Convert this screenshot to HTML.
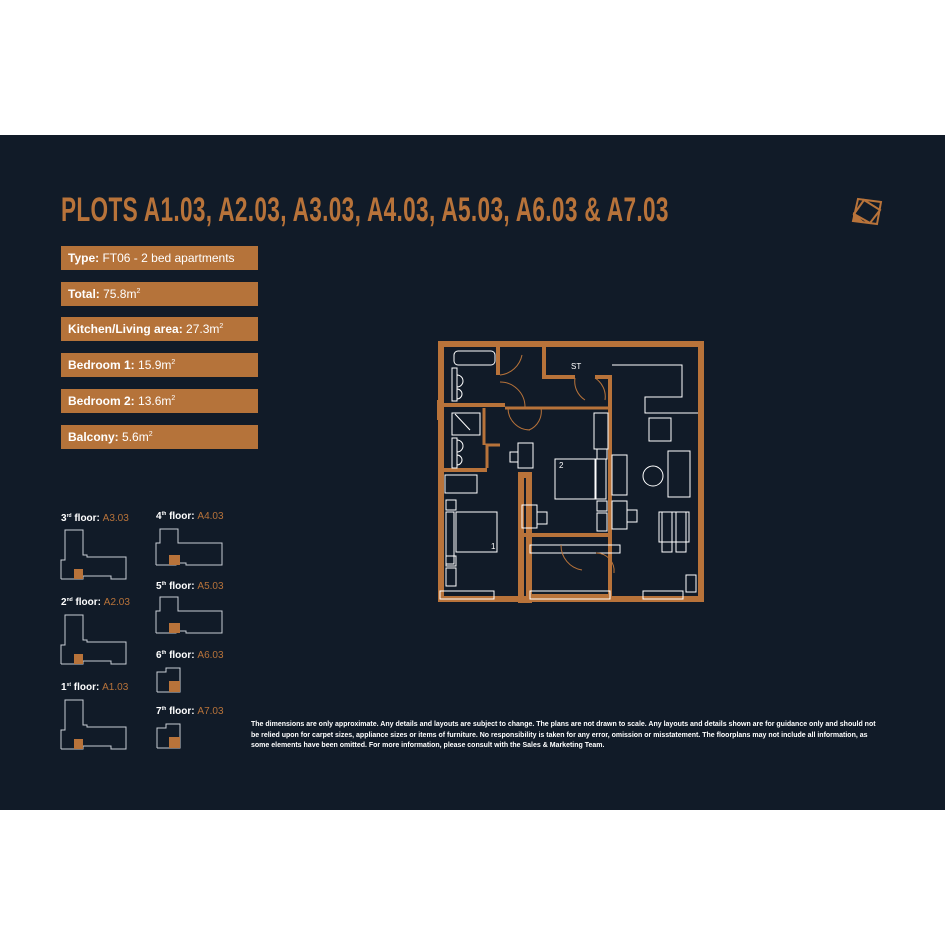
<!DOCTYPE html>
<html><head><meta charset="utf-8"><style>
body{margin:0;width:945px;height:945px;background:#fff;position:relative;overflow:hidden;font-family:"Liberation Sans",sans-serif}
#bg{position:absolute;left:0;top:135px;width:945px;height:675px;background:#111b28}
.t{position:absolute;left:61px;top:191px;color:#b8733a;font-weight:bold;font-size:34px;white-space:nowrap;transform:scaleX(0.665);transform-origin:left top;letter-spacing:0.5px}
.b{position:absolute;left:61px;width:197px;height:24px;background:#b5733a;color:#fff;font-size:12px;line-height:24px;padding-left:7px;box-sizing:border-box;white-space:nowrap}
.b b{font-weight:bold}
sup{font-size:7px;vertical-align:5px;line-height:0}
.fl{position:absolute;color:#fff;font-size:10px;font-weight:bold;white-space:nowrap}
.fl span{color:#b8733a;font-weight:normal}
.fl sup{font-size:5px;vertical-align:4px}
.note{position:absolute;left:251px;top:720px;width:630px;color:#fff;font-size:7px;line-height:10.6px;font-weight:bold}
</style></head><body>
<div id="bg"></div>
<div class="t">PLOTS A1.03, A2.03, A3.03, A4.03, A5.03, A6.03 &amp; A7.03</div>
<svg style="position:absolute;left:850px;top:196px" width="34" height="30" viewBox="0 0 34 30">
<polygon points="8,3 31,6 27,28 3,25" fill="none" stroke="#b8733a" stroke-width="2"/>
<polygon points="14,4 30,14 20,27 4,18" fill="none" stroke="#b8733a" stroke-width="2"/>
<polygon points="3,16 3,25 14,26" fill="#b8733a"/>
</svg>
<div class="b" style="top:246px"><b>Type:</b> FT06 - 2 bed apartments</div>
<div class="b" style="top:282px"><b>Total:</b> 75.8m<sup>2</sup></div>
<div class="b" style="top:317px"><b>Kitchen/Living area:</b> 27.3m<sup>2</sup></div>
<div class="b" style="top:353px"><b>Bedroom 1:</b> 15.9m<sup>2</sup></div>
<div class="b" style="top:389px"><b>Bedroom 2:</b> 13.6m<sup>2</sup></div>
<div class="b" style="top:425px"><b>Balcony:</b> 5.6m<sup>2</sup></div>

<div class="fl" style="left:61px;top:513px">3<sup>rd</sup> floor: <span>A3.03</span></div>
<div class="fl" style="left:61px;top:597px">2<sup>nd</sup> floor: <span>A2.03</span></div>
<div class="fl" style="left:61px;top:682px">1<sup>st</sup> floor: <span>A1.03</span></div>
<div class="fl" style="left:156px;top:511px">4<sup>th</sup> floor: <span>A4.03</span></div>
<div class="fl" style="left:156px;top:581px">5<sup>th</sup> floor: <span>A5.03</span></div>
<div class="fl" style="left:156px;top:650px">6<sup>th</sup> floor: <span>A6.03</span></div>
<div class="fl" style="left:156px;top:706px">7<sup>th</sup> floor: <span>A7.03</span></div>

<svg style="position:absolute;left:0;top:0" width="945" height="945">
<defs>
<g id="big"><polyline points="0,49 0,30 4,30 4,27 4,0 22,0 22,25 26,25 26,27 65,27 65,49 50,49 50,46 22,46 22,49 0,49" fill="none" stroke="#c8ccd4" stroke-width="1"/><rect x="13" y="39" width="9" height="10" fill="#b8733a"/></g>
<g id="med"><polyline points="0,36 0,14 4,14 4,0 22,0 22,14 66,14 66,36 30,36 30,34 20,34 20,36 0,36" fill="none" stroke="#c8ccd4" stroke-width="1"/><rect x="13" y="26" width="11" height="10" fill="#b8733a"/></g>
<g id="sm"><polyline points="1,25 1,5 10,5 10,1 24,1 24,25 1,25" fill="none" stroke="#c8ccd4" stroke-width="1"/><rect x="13" y="14" width="11" height="11" fill="#b8733a"/></g>
</defs>
<use href="#big" x="61" y="530"/>
<use href="#big" x="61" y="615"/>
<use href="#big" x="61" y="700"/>
<use href="#med" x="156" y="529"/>
<use href="#med" x="156" y="597"/>
<use href="#sm" x="156" y="667"/>
<use href="#sm" x="156" y="723"/>

<g fill="none" stroke="#b8733a">
<rect x="441" y="344" width="260" height="255" stroke-width="6"/>
<line x1="439" y1="405" x2="505" y2="405" stroke-width="4"/>
<line x1="498" y1="342" x2="498" y2="375" stroke-width="4"/>
<polyline points="544,342 544,377 575,377" stroke-width="4"/>
<polyline points="595,377 610,377 610,600" stroke-width="4"/>
<line x1="505" y1="408" x2="610" y2="408" stroke-width="3"/>
<line x1="484" y1="408" x2="484" y2="445" stroke-width="3"/>
<line x1="439" y1="470" x2="487" y2="470" stroke-width="4"/>
<polyline points="487,468 487,445 500,445" stroke-width="3"/>
<rect x="521" y="475" width="8" height="125" stroke-width="6"/>
<line x1="520" y1="535" x2="610" y2="535" stroke-width="4"/>
<line x1="439" y1="400" x2="439" y2="420" stroke-width="4"/>
<line x1="700" y1="355" x2="700" y2="600" stroke-width="4"/>
<line x1="530" y1="597" x2="612" y2="597" stroke-width="6"/>
</g>
<g fill="none" stroke="#fff" stroke-width="1">
<rect x="454" y="351" width="41" height="14" rx="4"/>
<rect x="452" y="368" width="5" height="33"/>
<path d="M457,375 a4,4 0 0 1 0,12 M457,389 a4,4 0 0 1 0,10"/>
<rect x="452" y="413" width="28" height="22"/>
<line x1="455" y1="414" x2="470" y2="430"/>
<rect x="452" y="438" width="5" height="30"/>
<path d="M457,440 a4,4 0 0 1 0,12 M457,455 a4,4 0 0 1 0,10"/>
<rect x="445" y="475" width="32" height="18"/>
<rect x="446" y="500" width="10" height="10"/>
<rect x="446" y="512" width="8" height="52"/>
<rect x="456" y="512" width="41" height="40"/>
<rect x="446" y="556" width="10" height="10"/>
<rect x="446" y="568" width="10" height="18"/>
<rect x="518" y="443" width="15" height="25"/><rect x="510" y="452" width="8" height="10"/>
<rect x="555" y="459" width="40" height="40"/>
<rect x="596" y="459" width="10" height="40"/>
<rect x="594" y="413" width="14" height="36"/>
<rect x="597" y="449" width="10" height="10"/>
<rect x="597" y="501" width="10" height="10"/>
<rect x="597" y="513" width="10" height="18"/>
<rect x="522" y="505" width="15" height="23"/><rect x="537" y="512" width="10" height="12"/>
<rect x="612" y="455" width="15" height="40"/>
<rect x="612" y="501" width="15" height="28"/><rect x="627" y="510" width="10" height="12"/>
<polyline points="612,365 682,365 682,397 645,397 645,413 698,413"/>
<rect x="649" y="418" width="22" height="23"/>
<circle cx="653" cy="476" r="10"/>
<rect x="668" y="451" width="22" height="46"/>
<rect x="659" y="512" width="30" height="30"/>
<rect x="662" y="512" width="10" height="40"/><rect x="676" y="512" width="10" height="40"/>
<rect x="440" y="591" width="54" height="8"/>
<rect x="530" y="591" width="80" height="8"/>
<rect x="643" y="591" width="40" height="8"/>
<rect x="530" y="545" width="90" height="8"/>
<rect x="686" y="575" width="10" height="17"/>
</g>
<g fill="none" stroke="#b8733a" stroke-width="1">
<path d="M500,375 a25,25 0 0 0 22,-20"/>
<path d="M500,382 a25,25 0 0 1 25,25"/>
<path d="M508,408 a22,22 0 0 0 22,22 M541,408 a20,20 0 0 1 -12,22"/>
<path d="M575,378 a22,22 0 0 0 10,22 M595,378 a22,22 0 0 1 10,22"/>
<path d="M561,545 a25,25 0 0 0 21,25"/>
<path d="M596,553 a18,18 0 0 1 18,20"/>
</g>
<g fill="#fff" font-size="8" font-family="Liberation Sans,sans-serif">
<text x="571" y="369">ST</text><text x="559" y="468">2</text><text x="491" y="549">1</text>
</g>
</svg>
<div class="note">The dimensions are only approximate. Any details and layouts are subject to change. The plans are not drawn to scale. Any layouts and details shown are for guidance only and should not be relied upon for carpet sizes, appliance sizes or items of furniture. No responsibility is taken for any error, omission or misstatement. The floorplans may not include all information, as some elements have been omitted. For more information, please consult with the Sales &amp; Marketing Team.</div>
</body></html>
